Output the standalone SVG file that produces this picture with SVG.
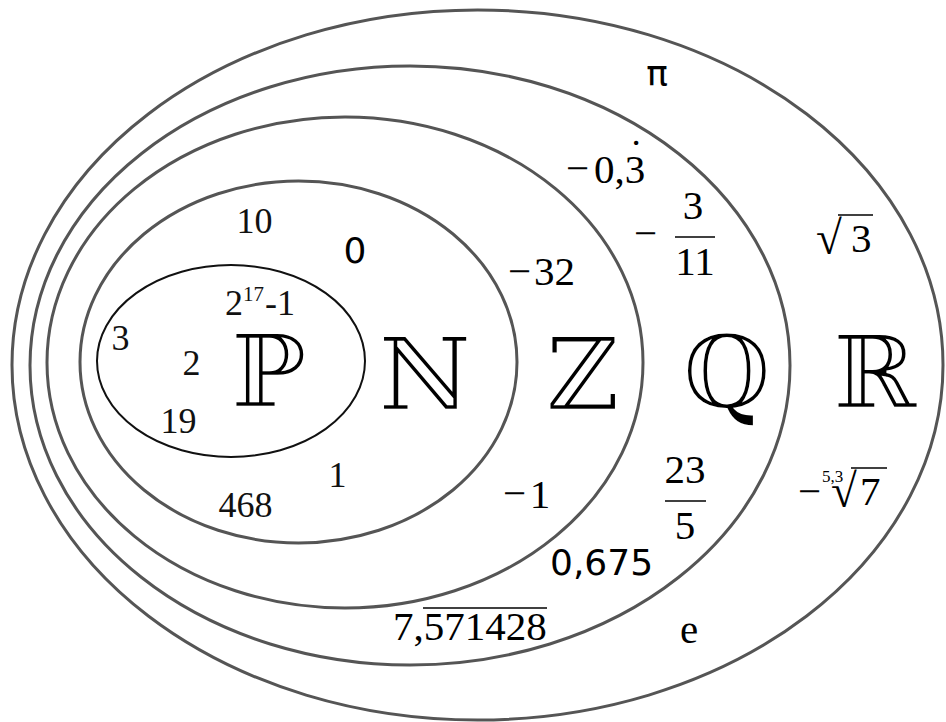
<svg xmlns="http://www.w3.org/2000/svg" width="946" height="722" viewBox="0 0 946 722">
<style>
.set{fill:none;stroke:#555;stroke-width:3}
.pset{fill:none;stroke:#111;stroke-width:2}
.m{font-family:"Liberation Serif","DejaVu Serif",serif;font-size:41px;fill:#000}
.t{font-family:"Liberation Serif","DejaVu Serif",serif;font-size:36px;fill:#111}
.s{font-family:"DejaVu Sans","Liberation Sans",sans-serif;font-size:36px;fill:#000}
.bb{font-family:"DejaVu Serif","Liberation Serif",serif;font-size:102px;fill:#000;stroke:#fff;stroke-width:2.5;text-anchor:middle}
.c{text-anchor:middle}
.bar{stroke:#000;stroke-width:1.6}
.sm{font-size:17px}
.rad{font-size:47px}
</style>
<rect width="946" height="722" fill="#fff"/>
<g id="sets">
<g id="set-R"><ellipse class="set" cx="477.5" cy="365" rx="465.5" ry="355"/><text class="bb" x="875" y="408">ℝ</text></g>
<g id="set-Q"><ellipse class="set" cx="410" cy="365.5" rx="380" ry="299.5"/><text class="bb" x="727" y="408">ℚ</text></g>
<g id="set-Z"><ellipse class="set" cx="345" cy="362.5" rx="298" ry="245.5"/><text class="bb" x="582.5" y="410">ℤ</text></g>
<g id="set-N"><ellipse class="set" cx="298.5" cy="362" rx="218.5" ry="181"/><text class="bb" x="425" y="410">ℕ</text></g>
<g id="set-P"><ellipse class="pset" cx="231" cy="361" rx="134" ry="96"/><text class="bb" x="268.5" y="407">ℙ</text></g>
</g>
<g id="elements-P">
<text class="t c" x="120.5" y="350">3</text>
<text class="t c" x="191.5" y="375">2</text>
<text class="t c" x="178.5" y="433">19</text>
<text class="t" x="225" y="315">2<tspan x="243" y="301" style="font-size:21px">17</tspan><tspan x="265" y="315">-1</tspan></text>
</g>
<g id="elements-N">
<text class="t c" x="254.5" y="233">10</text>
<text class="s c" x="355" y="263">0</text>
<text class="t c" x="337.5" y="487">1</text>
<text class="t c" x="245.5" y="517">468</text>
</g>
<g id="elements-Z">
<text class="m c" x="519.5" y="285">−</text><text class="m" x="534" y="285">32</text>
<text class="m c" x="514.5" y="507">−</text><text class="m c" x="540" y="508">1</text>
</g>
<g id="elements-Q">
<text class="m c" x="577.5" y="182">−</text><text class="m" x="594" y="183">0,3</text><text class="m c" x="636" y="167">˙</text>
<text class="m c" x="645.5" y="247">−</text><text class="m c" x="693" y="219">3</text><line class="bar" x1="675" y1="237" x2="715" y2="237"/><text class="m c" x="695" y="275">11</text>
<text class="m c" x="685" y="483">23</text><line class="bar" x1="665" y1="501" x2="706" y2="501"/><text class="m c" x="685" y="539">5</text>
<text class="s" x="550" y="575">0,675</text>
<text class="m" x="393" y="640">7,571428</text><line class="bar" x1="423" y1="608" x2="547" y2="608"/>
</g>
<g id="elements-R">
<text class="s c" x="657" y="86">π</text>
<text class="m" x="816" y="254"><tspan class="rad">√</tspan><tspan x="851" y="252">3</tspan></text><line class="bar" x1="838" y1="215" x2="873" y2="215"/>
<text class="m c" x="809.5" y="505">−</text><text class="m sm" x="822" y="482">5,3</text><text class="m" x="831" y="507"><tspan class="rad">√</tspan><tspan x="860" y="505">7</tspan></text><line class="bar" x1="851" y1="468" x2="887" y2="468"/>
<text class="m c" x="689" y="643">e</text>
</g>
</svg>
